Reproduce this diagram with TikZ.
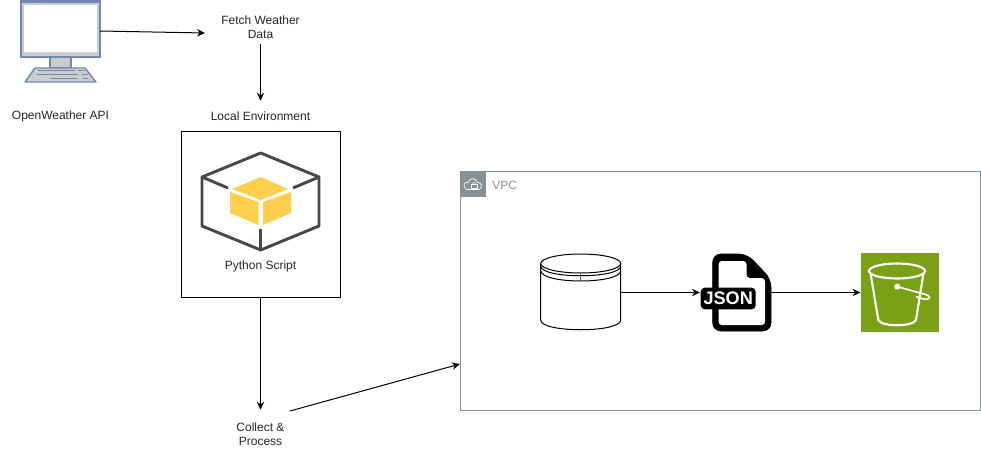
\documentclass[tikz,border=0pt]{standalone}
\usepackage{fontspec}
\setmainfont{Liberation Sans}
\usetikzlibrary{arrows.meta}
\definecolor{monitorblue}{RGB}{112,136,180}
\definecolor{monitorgray}{RGB}{204,204,204}
\definecolor{cubegray}{RGB}{72,72,72}
\definecolor{cubeyellow}{RGB}{255,207,77}
\definecolor{vpcgray}{RGB}{135,145,150}
\definecolor{bucketgreen}{RGB}{122,161,22}
\begin{document}
\begin{tikzpicture}[x=0.75pt, y=-0.75pt,
  Pfeil/.style={arrows = -{Stealth[length=6pt,width=5.5pt]}, line width=0.75pt},
  Txt/.style={align=center, inner sep=0pt, font=\fontsize{9}{10.5}\selectfont, text=black!85},
  Icon/.style={inner sep=0pt, outer sep=0pt},
  CubeLine/.style={cubegray, line width=2.2pt, line join=round},
  CylLine/.style={line width=0.75pt, black}]
\useasboundingbox (0,0) rectangle (981,471);
\node[Icon, minimum width=60pt, minimum height=45pt] (monitor) at (60,31) {};
\node[Txt] (api) at (60.5,116.7) {OpenWeather API};
\node[Txt, minimum height=24pt] (fetch) at (260.5,27.5) {Fetch Weather\\ Data};
\node[Txt, minimum height=22.5pt] (local) at (260.5,116) {Local Environment};
\node[draw, line width=0.75pt, minimum width=119.25pt, minimum height=124.5pt, outer sep=0pt] (localbox) at (260.5,214.7) {};
\node[Icon, minimum width=89.25pt, minimum height=72.75pt] (cube) at (260.5,201.5) {};
\node[Txt] (script) at (260.5,266.7) {Python Script};
\node[Txt, minimum height=36pt] (collect) at (260.5,434) {Collect \&\\ Process};
\node[draw=vpcgray, line width=0.75pt, minimum width=390pt, minimum height=179.25pt, outer sep=0pt] (vpc) at (720.5,291.2) {};
\node[Icon, fill=vpcgray, minimum width=18.75pt, minimum height=18.75pt] (vpcicon) at (473,184.5) {};
\node[Txt, anchor=west, text=vpcgray] (vpclabel) at (492,185) {VPC};
\node[Icon, minimum width=60pt, minimum height=57pt] (cylinder) at (621,292.5) [anchor=east] {};
\node[Icon, minimum width=53.25pt, minimum height=57.75pt] (json) at (735.5,292.5) {};
\node[Icon, fill=bucketgreen, minimum width=58.5pt, minimum height=59.25pt] (bucket) at (899.5,292.5) {};
\coordinate (fetchin) at (205,33);
\coordinate (collectout) at (290,411);
\coordinate (vpcin) at (460,364);

\draw[monitorblue, fill=monitorgray, line width=1.1pt] (50,57) rectangle (71,68);
\draw[monitorblue, fill=monitorgray, line width=1.1pt, line join=round] (35,68) -- (85,68) -- (96,82) -- (25,82) -- cycle;
\draw[monitorblue, fill=monitorgray, line width=1.5pt] (20.5,1.5) rectangle (100,57);
\fill[white] (24,5) rectangle (97,52);
\foreach \xa/\xb/\yy in {38/75/70.7, 78/85/70.7, 36.5/78/74.7, 82/87.5/74.7, 50/77/78.7, 82.5/88/78.7}
  \draw[monitorblue, line width=1pt] (\xa,\yy) -- (\xb,\yy);

\fill[cubeyellow] (260.7,177) -- (288,189) -- (260.7,200) -- (232,189) -- cycle;
\fill[cubeyellow] (230,192) -- (258.5,202) -- (258.5,225) -- (230,213) -- cycle;
\fill[cubeyellow] (263,202) -- (291,192) -- (291,213) -- (263,225) -- cycle;
\draw[CubeLine] (260.7,153) -- (319,177) -- (319,226) -- (260.7,250) -- (202,226) -- (202,177) -- cycle;
\draw[CubeLine] (202,177) -- (228,188);
\draw[CubeLine] (319,177) -- (293,188);
\draw[CubeLine] (260.7,229) -- (260.7,250);

\draw[white, line width=0.5pt, line join=round] (465,188) .. controls (462.5,185) and (465,181.5) .. (468,182.5) .. controls (469.5,177.5) and (476,177.5) .. (477.5,182.5) .. controls (481.5,182) and (483,187) .. (479.5,189.5) -- (467,189.5) .. controls (466,189.5) and (465.5,188.5) .. (465,188) -- cycle;
\draw[white, line width=0.45pt] (471,184.5) rectangle (477,188);
\draw[white, line width=0.45pt] (472.5,184.5) .. controls (472.5,181.8) and (475.5,181.8) .. (475.5,184.5);

\draw[CylLine, fill=white] (540.7,264) -- (540.7,320) .. controls (540.7,333) and (620.7,333) .. (620.7,320) -- (620.7,264) -- cycle;
\draw[CylLine, fill=white] (580.7,263.5) ellipse (40 and 9.5);
\draw[CylLine] (540.7,266) .. controls (540.7,279) and (620.7,279) .. (620.7,266);
\draw[CylLine] (540.7,270.5) .. controls (540.7,284.5) and (620.7,284.5) .. (620.7,270.5);
\draw[line width=0.4pt, black!60] (580.7,272) -- (580.7,282);

\draw[fill=black, rounded corners=6pt] (712.7,254) -- (747,254) -- (771,279) -- (771,331) -- (712.7,331) -- cycle;
\fill[white, rounded corners=2.5pt] (718.5,261) -- (746.5,261) -- (746.5,278) -- (765,278) -- (765,325) -- (718.5,325) -- cycle;
\node[Icon, fill=black, rounded corners=3pt, minimum width=41.25pt, minimum height=16.2pt, text=white, font=\bfseries\fontsize{13.6}{13.6}\selectfont] (jsonbadge) at (728.2,298.5) {JSON};

\draw[white, line width=1.6pt] (897,271) ellipse (28 and 7.5);
\draw[white, line width=1.6pt, line join=round] (870.5,273) -- (878.3,320) .. controls (881,327) and (913,327) .. (916,320) -- (923.5,273);
\fill[white] (897.3,286.7) circle (3);
\draw[white, line width=1.2pt] (897.3,286.7) -- (924,294) .. controls (932,296) and (931,300) .. (924,299) .. controls (920,298.5) and (918,297.5) .. (916,296.5);

\draw[Pfeil] (monitor.east) -- (fetchin);
\draw[Pfeil] (fetch.south) -- (local.north);
\draw[Pfeil] (localbox.south) -- (collect.north);
\draw[Pfeil] (collectout) -- (vpcin);
\draw[Pfeil] (cylinder.east) -- (json.west);
\draw[Pfeil] (json.east) -- (bucket.west);
\end{tikzpicture}
\end{document}
